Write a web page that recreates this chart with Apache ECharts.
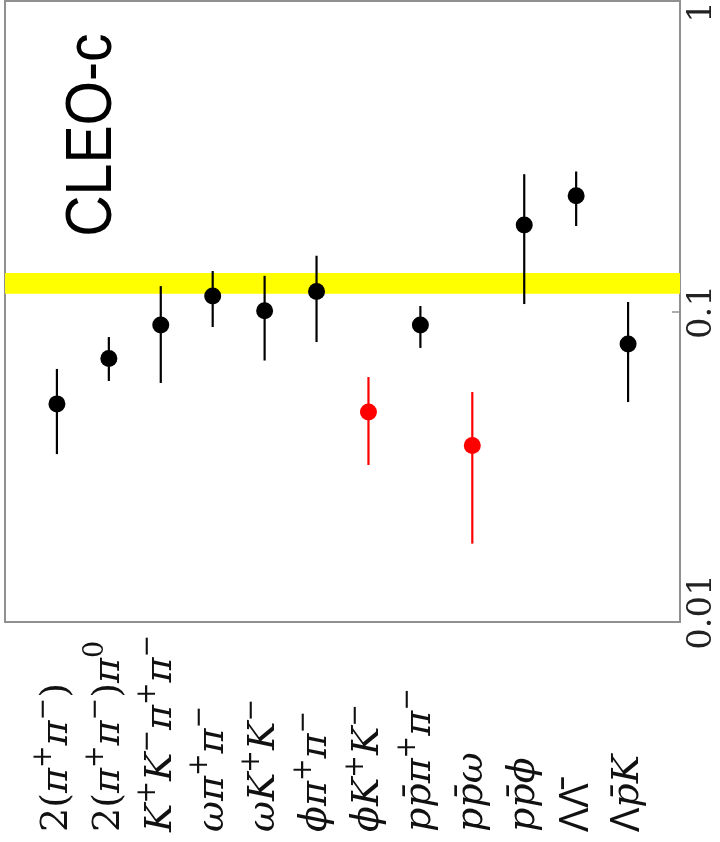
<!DOCTYPE html>
<html>
<head>
<meta charset="utf-8">
<script src="https://cdn.jsdelivr.net/npm/echarts@6/dist/echarts.min.js"></script>
<style>
  html, body { margin: 0; padding: 0; background: #fff; }
  #chart { width: 720px; height: 842px; }
</style>
</head>
<body>
<div id="chart"></div>
<script>
// Decay channels (rich-text markup: n = upright, i = italic, s = superscript, L = capital lambda)
const categories = [
  '{n|2(}{i|π}{s|+}{i|π}{s|−}{n|)}',
  '{n|2(}{i|π}{s|+}{i|π}{s|−}{n|)}{i|π}{s|0}',
  '{i|K}{s|+}{i|K}{s|−}{i|π}{s|+}{i|π}{s|−}',
  '{i|ω}{i|π}{s|+}{i|π}{s|−}',
  '{i|ω}{i|K}{s|+}{i|K}{s|−}',
  '{i|ϕ}{i|π}{s|+}{i|π}{s|−}',
  '{i|ϕ}{i|K}{s|+}{i|K}{s|−}',
  '{i|pp\u0304}{i|π}{s|+}{i|π}{s|−}',
  '{i|pp\u0304ω}',
  '{i|pp\u0304ϕ}',
  '{L|ΛΛ\u0304}',
  '{L|Λ}{i|p\u0304K}'
];

// Ratio per channel with its upper and lower error limits
const values = [0.0494, 0.0700, 0.0905, 0.113, 0.101, 0.117, 0.0464, 0.0905, 0.0359, 0.195, 0.244, 0.0782];
const errHigh = [0.0646, 0.0825, 0.122, 0.137, 0.132, 0.154, 0.0607, 0.1047, 0.0541, 0.288, 0.294, 0.108];
const errLow = [0.0336, 0.0589, 0.058, 0.0891, 0.0689, 0.0794, 0.0309, 0.0759, 0.0169, 0.1063, 0.1935, 0.0501];
// Channels drawn in red
const highlighted = [false, false, false, false, false, false, true, false, true, false, false, false];

// The "12% rule" band
const bandLow = 0.115;
const bandHigh = 0.135;

// Log-axis tick labels
const yTickLabels = [0.01, 0.1, 1];
const yTickMarks = [0.1];

const BLACK = '#000000';
const RED = '#ff0000';

const pointData = values.map((v, i) => ({
  value: [i + 1, v],
  itemStyle: { color: highlighted[i] ? RED : BLACK, opacity: 1 }
}));
const errorData = values.map((v, i) => [i + 1, errLow[i], errHigh[i], highlighted[i] ? 1 : 0]);

const chart = echarts.init(document.getElementById('chart'), null, { renderer: 'canvas' });

const option = {
  animation: false,
  backgroundColor: '#ffffff',
  grid: {
    left: 5, right: 40, top: 1, bottom: 220,
    show: true,
    borderColor: '#909090',
    borderWidth: 2,
    backgroundColor: 'transparent',
    outerBoundsMode: 'none'
  },
  xAxis: {
    type: 'value',
    min: 0,
    max: categories.length + 1,
    interval: 1,
    axisLine: { show: false, onZero: false },
    axisTick: { show: false },
    splitLine: { show: false },
    axisLabel: {
      show: true,
      rotate: 90,
      align: 'left',
      margin: 210,
      showMinLabel: true,
      showMaxLabel: true,
      formatter: v => (v >= 1 && v <= categories.length ? categories[v - 1] : ''),
      rich: {
        n: { fontFamily: 'DejaVu Serif', fontSize: 38, lineHeight: 52, color: '#111' },
        i: { fontFamily: 'DejaVu Serif', fontStyle: 'italic', fontSize: 38, lineHeight: 52, color: '#111' },
        L: { fontFamily: 'Noto Sans', fontSize: 40, lineHeight: 52, color: '#111' },
        s: { fontFamily: 'DejaVu Serif', fontSize: 27, lineHeight: 52, verticalAlign: 'top', color: '#111' }
      }
    }
  },
  yAxis: {
    type: 'log',
    logBase: 10,
    position: 'right',
    min: 0.009262,
    max: 1.088,
    axisLine: { show: false, onZero: false },
    splitLine: { show: false },
    axisTick: {
      show: true,
      inside: true,
      length: 8,
      customValues: yTickMarks,
      lineStyle: { color: '#909090', width: 1.5 }
    },
    axisLabel: {
      show: true,
      customValues: yTickLabels,
      rotate: 90,
      margin: 5,
      fontFamily: 'DejaVu Serif',
      fontSize: 34,
      color: '#222',
      formatter: v => String(v)
    }
  },
  graphic: [{
    type: 'text',
    x: 93,
    y: 135,
    rotation: Math.PI / 2,
    scaleX: 0.88,
    style: {
      text: 'CLEO-c',
      fontFamily: 'Liberation Sans',
      fontSize: 65,
      fill: '#000',
      align: 'center',
      verticalAlign: 'middle'
    },
    z: 10
  }],
  series: [
    {
      // band only
      type: 'line',
      data: [],
      z: 1,
      silent: true,
      markArea: {
        silent: true,
        itemStyle: { color: '#ffff00', opacity: 1 },
        data: [[{ yAxis: bandLow }, { yAxis: bandHigh }]]
      }
    },
    {
      type: 'custom',
      z: 3,
      silent: true,
      encode: { x: 0, y: [1, 2] },
      data: errorData,
      renderItem: function (params, api) {
        const x = api.value(0);
        const p1 = api.coord([x, api.value(1)]);
        const p2 = api.coord([x, api.value(2)]);
        return {
          type: 'line',
          shape: { x1: p1[0], y1: p1[1], x2: p2[0], y2: p2[1] },
          style: { stroke: api.value(3) ? RED : BLACK, lineWidth: 2.2 }
        };
      }
    },
    {
      type: 'scatter',
      z: 4,
      symbol: 'circle',
      symbolSize: 17,
      data: pointData
    }
  ]
};

chart.setOption(option);
</script>
</body>
</html>
